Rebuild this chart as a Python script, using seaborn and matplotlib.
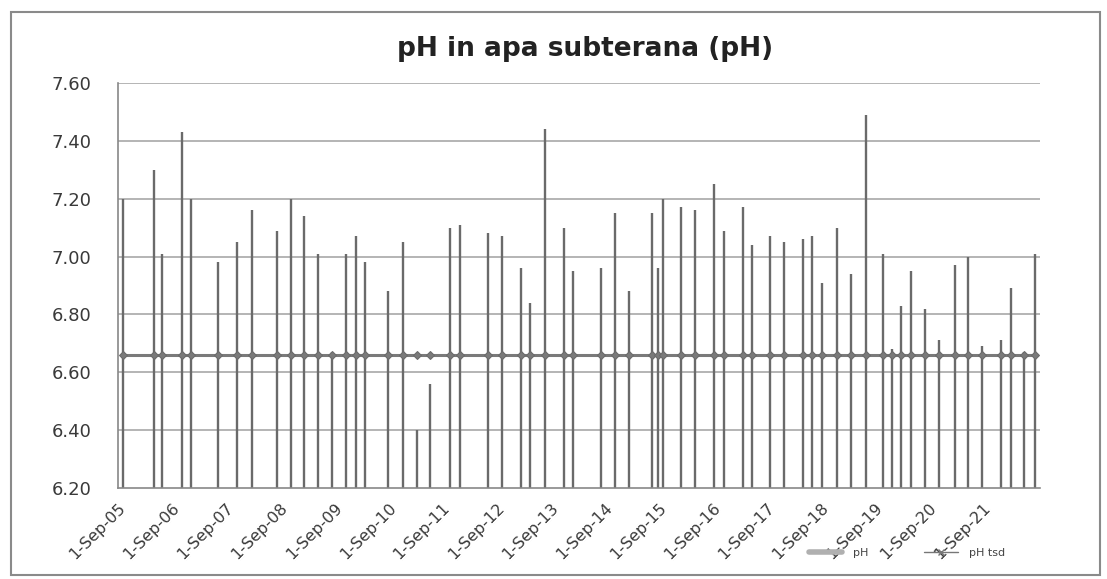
import pandas as pd
import matplotlib.pyplot as plt
import seaborn as sns
from matplotlib.lines import Line2D
from matplotlib.patches import Rectangle

# Estilo
sns.set_style("white")
plt.rcParams['font.family'] = ['DejaVu Sans']

# Datos
fechas = [
    "2005-10-02", "2006-05-03", "2006-06-28", "2006-11-07", "2007-01-09",
    "2007-07-11", "2007-11-15", "2008-02-23", "2008-08-08", "2008-11-13",
    "2009-02-11", "2009-05-11", "2009-08-14", "2009-11-19", "2010-01-24",
    "2010-03-26", "2010-09-01", "2010-12-11", "2011-03-12", "2011-06-09",
    "2011-10-20", "2011-12-27", "2012-07-05", "2012-10-08", "2013-02-12",
    "2013-04-12", "2013-07-22", "2013-11-28", "2014-02-01", "2014-08-07",
    "2014-11-12", "2015-02-15", "2015-07-21", "2015-08-25", "2015-09-28",
    "2016-01-30", "2016-05-05", "2016-09-11", "2016-11-18", "2017-03-22",
    "2017-05-21", "2017-09-22", "2017-12-26", "2018-05-02", "2018-07-04",
    "2018-09-07", "2018-12-17", "2019-03-20", "2019-07-04", "2019-10-25",
    "2019-12-25", "2020-02-27", "2020-05-02", "2020-08-07", "2020-11-06",
    "2021-02-20", "2021-05-19", "2021-08-25", "2022-01-01", "2022-03-07",
    "2022-06-02", "2022-08-15",
]
ph = [
    7.20, 7.30, 7.01, 7.43, 7.20,
    6.98, 7.05, 7.16, 7.09, 7.20,
    7.14, 7.01, 6.67, 7.01, 7.07,
    6.98, 6.88, 7.05, 6.40, 6.56,
    7.10, 7.11, 7.08, 7.07, 6.96,
    6.84, 7.44, 7.10, 6.95, 6.96,
    7.15, 6.88, 7.15, 6.96, 7.20,
    7.17, 7.16, 7.25, 7.09, 7.17,
    7.04, 7.07, 7.05, 7.06, 7.07,
    6.91, 7.10, 6.94, 7.49, 7.01,
    6.68, 6.83, 6.95, 6.82, 6.71,
    6.97, 7.00, 6.69, 6.71, 6.89,
    6.67, 7.01,
]
ph_tsd = 6.66

etichete_x = ["1-Sep-05", "1-Sep-06", "1-Sep-07", "1-Sep-08", "1-Sep-09",
              "1-Sep-10", "1-Sep-11", "1-Sep-12", "1-Sep-13", "1-Sep-14",
              "1-Sep-15", "1-Sep-16", "1-Sep-17", "1-Sep-18", "1-Sep-19",
              "1-Sep-20", "1-Sep-21"]
valori_y = [6.20, 6.40, 6.60, 6.80, 7.00, 7.20, 7.40, 7.60]

df = pd.DataFrame({"Data": pd.to_datetime(fechas), "pH": ph})
df["pH tsd"] = ph_tsd

fig = plt.figure(figsize=(11.07, 5.79), dpi=100)
ax = fig.add_axes([118 / 1107, 1 - 488 / 579, (1040 - 118) / 1107, (488 - 83) / 579])

# grila orizontala
for v in valori_y[1:]:
    ax.axhline(v, color="#a0a0a0", lw=1.1, zorder=0)

# seria pH (linii verticale de la baza)
ax.vlines(df["Data"], 0, df["pH"], color="#6a6a6a", lw=1.7, zorder=2)

# seria pH tsd
sns.lineplot(data=df, x="Data", y="pH tsd", ax=ax, color="#7a7a7a", lw=2.2,
             marker="D", markersize=4.5, markeredgecolor="#6a6a6a", zorder=3)

ax.set_xlim(pd.Timestamp("2005-09-01"), pd.Timestamp("2022-09-20"))
ax.set_ylim(valori_y[0], valori_y[-1])
ax.set_yticks(valori_y)
ax.set_yticklabels([f"{v:.2f}" for v in valori_y], fontsize=13, color="#3a3a3a")
ax.set_xticks(pd.to_datetime(etichete_x, format="%d-%b-%y"))
ax.set_xticklabels(etichete_x, rotation=45, ha="right", rotation_mode="anchor",
                   fontsize=11.5, color="#3a3a3a")
ax.tick_params(axis="both", direction="out", length=5, color="#888888", width=1)
ax.tick_params(axis="y", pad=14)
ax.tick_params(axis="x", pad=4)
ax.set_xlabel("")
ax.set_ylabel("")

for s in ["top", "right"]:
    ax.spines[s].set_visible(False)
for s in ["left", "bottom"]:
    ax.spines[s].set_color("#888888")
    ax.spines[s].set_linewidth(1.2)

fig.text(585 / 1107, 1 - 49 / 579, "pH in apa subterana (pH)", ha="center", va="center",
         fontsize=19, fontweight="bold", color="#222222")

# legenda
handles = [Line2D([], [], color="#b0b0b0", lw=4),
           Line2D([], [], color="#777777", lw=1, marker="x", markersize=5)]
fig.legend(handles, ["pH", "pH tsd"], loc="center", bbox_to_anchor=(907 / 1107, 1 - 553 / 579),
           ncol=2, frameon=False, fontsize=8, handlelength=3, columnspacing=5,
           handletextpad=1.0, labelcolor="#444444")

# chenarul graficului
fig.patches.append(Rectangle((11 / 1107, 4 / 579), (1100 - 11) / 1107, (575 - 12) / 579,
                             transform=fig.transFigure, fill=False, ec="#8a8a8a", lw=1.5))

fig.savefig("out.png", dpi=100)
